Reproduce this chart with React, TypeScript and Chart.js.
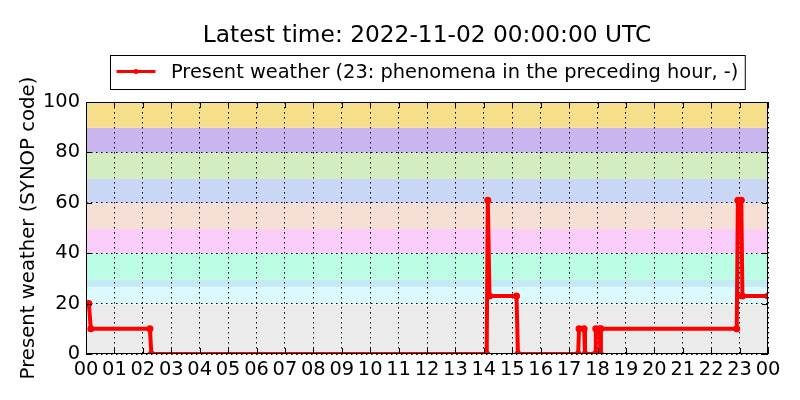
import { useEffect, useRef } from "react";
import { Chart, registerables } from "chart.js";

Chart.register(...registerables);

const TITLE = "Latest time: 2022-11-02 00:00:00 UTC";
const SERIES_LABEL = "Present weather (23: phenomena in the preceding hour, -)";
const Y_LABEL = "Present weather (SYNOP code)";

// hours since 00 UTC, and the SYNOP present-weather code at that time
const hours = [0.1, 0.17, 2.25, 2.3, 14.1, 14.14, 14.2, 15.15, 15.2, 17.32, 17.35, 17.53, 17.56, 17.92, 17.94, 18.08, 18.1, 18.12, 22.9, 22.94, 23.06, 23.1, 24];
const codes = [20, 10, 10, 0, 0, 61, 23, 23, 0, 0, 10, 10, 0, 0, 10, 10, 0, 10, 10, 61, 61, 23, 23];

const xTickValues = [0, 1, 2, 3, 4, 5, 6, 7, 8, 9, 10, 11, 12, 13, 14, 15, 16, 17, 18, 19, 20, 21, 22, 23, 24];
const xTickLabels = ["00", "01", "02", "03", "04", "05", "06", "07", "08", "09", "10", "11", "12", "13", "14", "15", "16", "17", "18", "19", "20", "21", "22", "23", "00"];
const yTickValues = [0, 20, 40, 60, 80, 100];

// background bands of code groups
const bandLows = [0, 19.7, 26.6, 29.4, 40, 49.6, 59.8, 69.5, 79.9, 89.8];
const bandHighs = [19.7, 26.6, 29.4, 40, 49.6, 59.8, 69.5, 79.9, 89.8, 100];
const bandColors = ["#ebebeb", "#dafafe", "#c6eaf4", "#bcfde6", "#fbcdfb", "#f8dfd6", "#c9d7f4", "#d3edc0", "#c9b6ee", "#f7de8a"];

const FONT = "DejaVu Sans";
const BASE_SIZE = 19.4;
const YLABEL_SIZE = 19.7;
const TITLE_SIZE = 23.3;

const decorPlugin = {
  id: "decor",
  beforeDraw(chart: any) {
    const { ctx, chartArea } = chart;
    const y = chart.scales.y;
    ctx.save();
    for (let i = 0; i < bandLows.length; i++) {
      const top = y.getPixelForValue(bandHighs[i]);
      const bot = y.getPixelForValue(bandLows[i]);
      ctx.fillStyle = bandColors[i];
      ctx.fillRect(chartArea.left, top, chartArea.right - chartArea.left, bot - top);
    }
    ctx.restore();
  },
  afterDatasetsDraw(chart: any) {
    const { ctx, chartArea } = chart;
    const xs = chart.scales.x;
    const ys = chart.scales.y;
    const { left, right, top, bottom } = chartArea;
    ctx.save();
    ctx.strokeStyle = "#000";
    ctx.lineWidth = 1;
    // inward ticks
    const tl = 6;
    ctx.beginPath();
    for (const v of yTickValues) {
      const py = Math.round(ys.getPixelForValue(v)) + 0.5;
      ctx.moveTo(left, py);
      ctx.lineTo(left + tl, py);
      ctx.moveTo(right, py);
      ctx.lineTo(right - tl, py);
    }
    for (const v of xTickValues) {
      const px = Math.round(xs.getPixelForValue(v)) + 0.5;
      ctx.moveTo(px, bottom);
      ctx.lineTo(px, bottom - tl);
      ctx.moveTo(px, top);
      ctx.lineTo(px, top + tl);
    }
    ctx.stroke();
    // frame
    ctx.strokeRect(left + 0.5, top + 0.5, right - left - 1, bottom - top - 1);
    ctx.restore();
  },
  afterDraw(chart: any) {
    const { ctx, chartArea } = chart;
    const cx = (chartArea.left + chartArea.right) / 2;
    ctx.save();
    // title
    ctx.fillStyle = "#000";
    ctx.font = `${TITLE_SIZE}px "${FONT}"`;
    ctx.textAlign = "center";
    ctx.textBaseline = "alphabetic";
    ctx.fillText(TITLE, cx, 42);
    // legend
    ctx.font = `${BASE_SIZE}px "${FONT}"`;
    const tw = ctx.measureText(SERIES_LABEL).width;
    const handle = 39;
    const gap = 15.5;
    const padL = 6;
    const padR = 7;
    const w = padL + handle + gap + tw + padR;
    const bx = Math.round(cx - w / 2) + 0.5;
    const by = 55.5;
    const bh = 34;
    ctx.fillStyle = "#fff";
    ctx.fillRect(bx, by, w, bh);
    ctx.strokeStyle = "#000";
    ctx.lineWidth = 1;
    ctx.strokeRect(bx, by, w, bh);
    const ly = by + bh / 2 - 1;
    ctx.strokeStyle = "#ff0000";
    ctx.lineWidth = 3;
    ctx.beginPath();
    ctx.moveTo(bx + padL, ly);
    ctx.lineTo(bx + padL + handle, ly);
    ctx.stroke();
    ctx.fillStyle = "#ff0000";
    ctx.beginPath();
    ctx.arc(bx + padL + handle / 2, ly, 2.5, 0, Math.PI * 2);
    ctx.fill();
    ctx.fillStyle = "#000";
    ctx.textAlign = "left";
    ctx.textBaseline = "middle";
    ctx.fillText(SERIES_LABEL, bx + padL + handle + gap, ly + 1);
    ctx.restore();
  },
};

export default function App() {
  const ref = useRef<HTMLCanvasElement | null>(null);

  useEffect(() => {
    document.body.style.margin = "0";
    const canvas = ref.current;
    if (!canvas) return;
    const chart = new Chart(canvas, {
      type: "line",
      data: {
        datasets: [
          {
            label: SERIES_LABEL,
            data: hours.map((h, i) => ({ x: h, y: codes[i] })),
            borderColor: "#ff0000",
            backgroundColor: "#ff0000",
            borderWidth: 4,
            pointRadius: 3.5,
            pointBorderWidth: 0,
            pointHoverRadius: 0,
            tension: 0,
            fill: false,
            borderJoinStyle: "miter",
          },
        ],
      },
      options: {
        animation: false,
        responsive: false,
        events: [],
        layout: { padding: { top: 102, right: 32, left: 0, bottom: 0 } },
        plugins: {
          legend: { display: false },
          title: { display: false },
          tooltip: { enabled: false },
        },
        scales: {
          x: {
            type: "linear",
            min: 0,
            max: 24,
            afterBuildTicks: (s: any) => {
              s.ticks = xTickValues.map((v) => ({ value: v }));
            },
            afterFit: (s: any) => {
              s.height = 46;
            },
            ticks: {
              autoSkip: false,
              maxRotation: 0,
              minRotation: 0,
              padding: 4,
              color: "#000",
              font: { family: FONT, size: BASE_SIZE },
              callback: (_v: any, i: number) => xTickLabels[i],
            },
            grid: { color: "#000", lineWidth: 1, drawTicks: false },
            border: { display: false, dash: [1.5, 3.5] },
          },
          y: {
            type: "linear",
            min: 0,
            max: 100,
            afterBuildTicks: (s: any) => {
              s.ticks = yTickValues.map((v) => ({ value: v }));
            },
            afterFit: (s: any) => {
              s.width = 86;
            },
            ticks: {
              padding: 6,
              color: "#000",
              font: { family: FONT, size: BASE_SIZE },
            },
            grid: { color: "#000", lineWidth: 1, drawTicks: false },
            border: { display: false, dash: [1.5, 3.5] },
            title: {
              display: true,
              text: Y_LABEL,
              color: "#000",
              font: { family: FONT, size: YLABEL_SIZE },
              padding: { top: 17, bottom: 0 },
            },
          },
        },
      },
      plugins: [decorPlugin],
    } as any);
    return () => chart.destroy();
  }, []);

  return (
    <div style={{ position: "fixed", left: 0, top: 0, width: 800, height: 400 }}>
      <canvas ref={ref} width={800} height={400} />
    </div>
  );
}
